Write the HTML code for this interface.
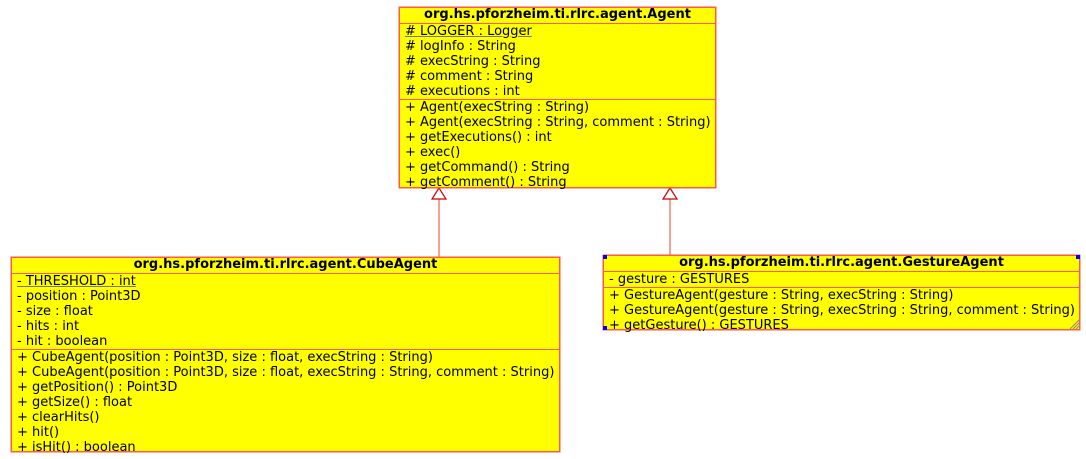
<!DOCTYPE html>
<html><head><meta charset="utf-8"><style>
html,body{margin:0;padding:0;background:#fff;width:1086px;height:459px;overflow:hidden;position:relative}
.b{position:absolute;background:#ff0;border:1px solid #ff5a46;box-shadow:0 0 0 0.5px #ff5a46;box-sizing:border-box;font-family:"DejaVu Sans","Liberation Sans",sans-serif;font-size:13px;color:#000}
.t{font-weight:bold;text-align:center;height:15px;line-height:14px;border-bottom:1.5px solid #ff5a46;font-size:13px}
.s{padding:0 0 0 5px;line-height:15px;border-bottom:1.5px solid #ff5a46;white-space:nowrap}
.s:last-child{border-bottom:none}
u{text-decoration:underline;text-decoration-color:#777}
.h{position:absolute;width:4px;height:4px;background:#00f}
</style></head><body>
<svg width="1086" height="459" style="position:absolute;left:0;top:0">
<line x1="439" y1="199" x2="439" y2="257" stroke="#f4604c" stroke-width="1.2"/>
<polygon points="439,188 432,199 446,199" fill="#fff" stroke="#c00" stroke-width="1.2"/>
<line x1="670" y1="199" x2="670" y2="255" stroke="#f4604c" stroke-width="1.2"/>
<polygon points="670,188 663,199 677,199" fill="#fff" stroke="#c00" stroke-width="1.2"/>
</svg>
<div class="b" style="left:399px;top:7px;width:317px;height:181px">
<div class="t">org.hs.pforzheim.ti.rlrc.agent.Agent</div>
<div class="s"><u># LOGGER : Logger</u><br># logInfo : String<br># execString : String<br># comment : String<br># executions : int</div>
<div class="s">+ Agent(execString : String)<br>+ Agent(execString : String, comment : String)<br>+ getExecutions() : int<br>+ exec()<br>+ getCommand() : String<br>+ getComment() : String</div>
</div>
<div class="b" style="left:11px;top:257px;width:549px;height:195px">
<div class="t">org.hs.pforzheim.ti.rlrc.agent.CubeAgent</div>
<div class="s"><u>- THRESHOLD : int</u><br>- position : Point3D<br>- size : float<br>- hits : int<br>- hit : boolean</div>
<div class="s">+ CubeAgent(position : Point3D, size : float, execString : String)<br>+ CubeAgent(position : Point3D, size : float, execString : String, comment : String)<br>+ getPosition() : Point3D<br>+ getSize() : float<br>+ clearHits()<br>+ hit()<br>+ isHit() : boolean</div>
</div>
<div class="b" style="left:603px;top:255px;width:477px;height:75px">
<div class="t">org.hs.pforzheim.ti.rlrc.agent.GestureAgent</div>
<div class="s">- gesture : GESTURES</div>
<div class="s">+ GestureAgent(gesture : String, execString : String)<br>+ GestureAgent(gesture : String, execString : String, comment : String)<br>+ getGesture() : GESTURES</div>
</div>
<div class="h" style="left:603px;top:255px"></div>
<div class="h" style="left:1076px;top:255px"></div>
<div class="h" style="left:603px;top:326px"></div>
<svg width="12" height="12" style="position:absolute;left:1067px;top:317px">
<line x1="3" y1="12" x2="12" y2="3" stroke="#888"/><line x1="6" y1="12" x2="12" y2="6" stroke="#888"/><line x1="9" y1="12" x2="12" y2="9" stroke="#888"/>
</svg>
</body></html>
